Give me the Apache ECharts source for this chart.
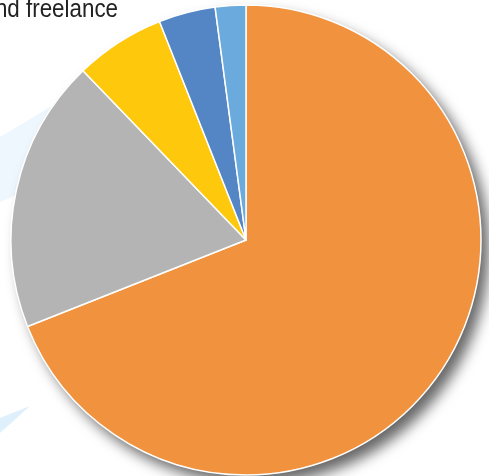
<!DOCTYPE html>
<html><head><meta charset="utf-8">
<script src="https://cdn.jsdelivr.net/npm/echarts@6/dist/echarts.min.js"></script>
<style>html,body{margin:0;padding:0;background:#fff;}#c{width:489px;height:476px;}</style>
</head><body><div id="c"></div>
<script>
const categories = ['Orange', 'Gray', 'Yellow', 'Blue', 'Light blue'];
const values = [69.0, 18.8, 6.2, 3.9, 2.1];
const colors = ['#F1923E', '#B4B4B4', '#FEC80C', '#5486C5', '#6AAADC'];
const titleText = 'and freelance';

const chart = echarts.init(document.getElementById('c'));
chart.setOption({
  animation: false,
  backgroundColor: '#fff',
  graphic: [
    { type: 'polygon', z: 0, shape: { points: [[0,137],[72,94],[40,185],[0,202]] }, style: { fill: '#EEF7FD' } },
    { type: 'polygon', z: 0, shape: { points: [[0,418],[30,406],[0,433]] }, style: { fill: '#DDF0FB' } },
    { type: 'text', z: 10, x: 118, y: -3, scaleX: 0.86,
      style: { text: titleText, fill: '#222', fontSize: 26, fontFamily: '"Liberation Sans", Arial, sans-serif', textAlign: 'right', textVerticalAlign: 'top' } }
  ],
  series: [
    {
      type: 'pie', z: 1, silent: true,
      center: [246, 240], radius: [0, 235],
      label: { show: false }, labelLine: { show: false },
      itemStyle: { color: '#fff', shadowBlur: 14, shadowOffsetX: 8, shadowOffsetY: 9, shadowColor: 'rgba(0,0,0,0.6)' },
      data: [{ value: 1, name: 'bg' }]
    },
    {
      type: 'pie', z: 2,
      center: [246, 240], radius: [0, 235],
      startAngle: 90, clockwise: true,
      label: { show: false }, labelLine: { show: false },
      itemStyle: { borderColor: '#fff', borderWidth: 1.5 },
      data: categories.map((n, i) => ({ name: n, value: values[i], itemStyle: { color: colors[i] } }))
    }
  ]
});
</script></body></html>
